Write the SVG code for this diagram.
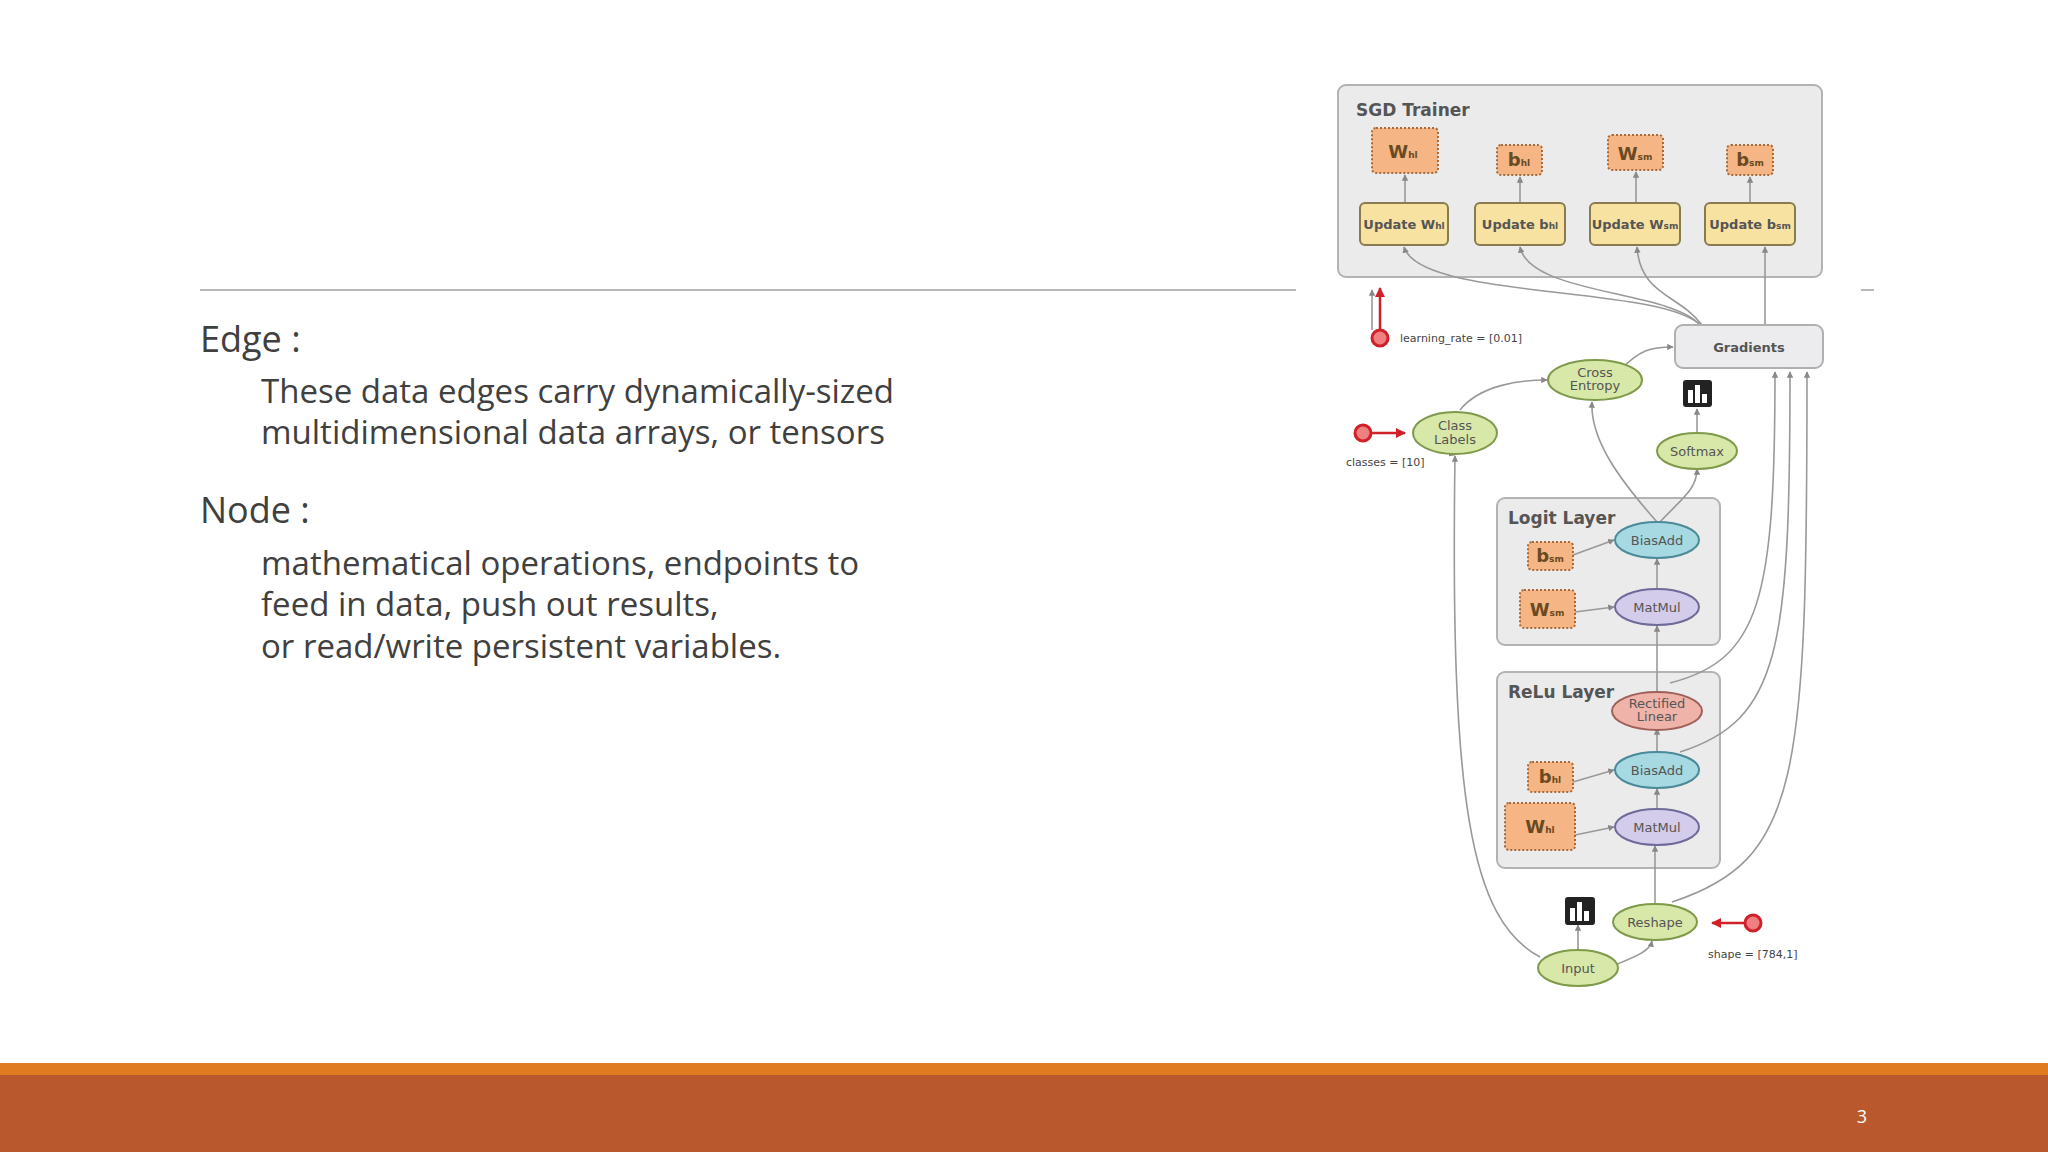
<svg xmlns="http://www.w3.org/2000/svg" width="2048" height="1152" viewBox="0 0 2048 1152">
<defs>
<marker id="a" viewBox="0 0 10 10" refX="9" refY="5" markerWidth="4" markerHeight="4" orient="auto"><path d="M0,0L10,5L0,10z" fill="#888"/></marker>
<marker id="r" viewBox="0 0 10 10" refX="9" refY="5" markerWidth="4" markerHeight="4" orient="auto"><path d="M0,0L10,5L0,10z" fill="#d0202a"/></marker>
<style>
.t{font-family:"Open Sans","Liberation Sans",sans-serif;fill:#404040}
.g{fill:#ebebeb;stroke:#b3b3b3;stroke-width:2}
.gt{font-family:"DejaVu Sans",sans-serif;font-weight:bold;font-size:17px;fill:#555}
.v{fill:#f5b585;stroke:#a86a3a;stroke-width:2;stroke-dasharray:2 2}
.u{fill:#f8e2a2;stroke:#8a7a50;stroke-width:2}
.gr{fill:#d8e8a8;stroke:#7f9a4a;stroke-width:2}
.bl{fill:#a6d9e2;stroke:#4a8a99;stroke-width:2}
.pu{fill:#d3cceb;stroke:#6e6a99;stroke-width:2}
.pk{fill:#efb3aa;stroke:#a06058;stroke-width:2}
.nt{font-family:"DejaVu Sans",sans-serif;font-size:13px;fill:#555;text-anchor:middle}
.vt{font-family:"DejaVu Sans",sans-serif;font-weight:bold;font-size:18px;fill:#6a4a20;text-anchor:middle}
.sm{font-size:9px}
.e{fill:none;stroke:#999;stroke-width:1.6;marker-end:url(#a)}
.re{fill:none;stroke:#d0202a;stroke-width:2.5;marker-end:url(#r)}
.c{fill:#f08080;stroke:#d0202a;stroke-width:3}
.lt{font-family:"DejaVu Sans",sans-serif;font-size:11px;fill:#444}
</style>
</defs>
<rect width="2048" height="1152" fill="#fff"/>
<line x1="200" y1="290" x2="1296" y2="290" stroke="#a0a0a0" stroke-width="1.5"/>
<line x1="1861" y1="290" x2="1874" y2="290" stroke="#a0a0a0" stroke-width="1.5"/>
<g id="text">
<text class="t" x="200" y="352" font-size="36">Edge :</text>
<text class="t" x="261" y="403" font-size="33">These data edges carry dynamically-sized</text>
<text class="t" x="261" y="444" font-size="33">multidimensional data arrays, or tensors</text>
<text class="t" x="200" y="523" font-size="36">Node :</text>
<text class="t" x="261" y="575" font-size="33">mathematical operations, endpoints to</text>
<text class="t" x="261" y="616" font-size="33">feed in data, push out results,</text>
<text class="t" x="261" y="658" font-size="33">or read/write persistent variables.</text>
</g>
<rect x="0" y="1063" width="2048" height="12" fill="#e07b1f"/>
<rect x="0" y="1075" width="2048" height="77" fill="#b9572d"/>
<text x="1862" y="1123" font-family="Open Sans,Liberation Sans,sans-serif" font-size="18" fill="#fff" text-anchor="middle">3</text>

<g id="sgd"><rect class="g" x="1338" y="85" width="484" height="192" rx="8"/><text class="gt" x="1356" y="116">SGD Trainer</text></g>
<g id="logit"><rect class="g" x="1497" y="498" width="223" height="147" rx="8"/><text class="gt" x="1508" y="524">Logit Layer</text></g>
<g id="relu"><rect class="g" x="1497" y="672" width="223" height="196" rx="8"/><text class="gt" x="1508" y="698">ReLu Layer</text></g>

<g id="connectors">
<path class="e" d="M1372,330 V290"/>
<path class="e" d="M1405,203 V175"/>
<path class="e" d="M1520,203 V177"/>
<path class="e" d="M1636,203 V172"/>
<path class="e" d="M1750,203 V177"/>
<path class="e" d="M1700,325 C1660,285 1420,300 1404,247"/>
<path class="e" d="M1700,325 C1670,290 1530,295 1520,247"/>
<path class="e" d="M1702,325 C1680,295 1640,295 1637,247"/>
<path class="e" d="M1765,325 V247"/>
<path class="e" d="M1620,370 C1640,350 1650,347 1673,347"/>
<path class="e" d="M1460,410 C1480,385 1520,380 1547,380"/>
<path class="e" d="M1455,455"/>
<path class="e" d="M1540,957 C1470,920 1450,800 1455,456"/>
<path class="e" d="M1657,522 C1620,480 1590,440 1592,402"/>
<path class="e" d="M1660,522 C1680,500 1697,490 1697,469"/>
<path class="e" d="M1697,432 V409"/>
<path class="e" d="M1578,950 V925"/>
<path class="e" d="M1615,965 C1640,955 1650,950 1652,941"/>
<path class="e" d="M1655,904 V846"/>
<path class="e" d="M1657,808 V789"/>
<path class="e" d="M1657,752 V729"/>
<path class="e" d="M1657,692 V626"/>
<path class="e" d="M1657,589 V559"/>
<path class="e" d="M1573,555 L1614,540"/>
<path class="e" d="M1575,612 L1614,607"/>
<path class="e" d="M1573,782 L1614,770"/>
<path class="e" d="M1575,835 L1614,827"/>
<path class="e" d="M1670,683 C1760,660 1775,600 1775,372"/>
<path class="e" d="M1680,752 C1780,720 1790,650 1790,372"/>
<path class="e" d="M1672,902 C1800,860 1807,780 1807,372"/>
<path class="re" d="M1380,330 V288"/>
<path class="re" d="M1372,433 H1405"/>
<path class="re" d="M1745,923 H1712"/>
</g>

<g id="lr"><circle class="c" cx="1380" cy="338" r="8"/><text class="lt" x="1400" y="342">learning_rate = [0.01]</text></g>
<g id="cls"><circle class="c" cx="1363" cy="433" r="8"/><text class="lt" x="1346" y="466">classes = [10]</text></g>
<g id="shp"><circle class="c" cx="1753" cy="923" r="8"/><text class="lt" x="1708" y="958">shape = [784,1]</text></g>

<g id="whl1"><rect class="v" x="1372" y="128" width="66" height="45" rx="4"/><text class="vt" x="1403" y="158">W<tspan class="sm">hl</tspan></text></g>
<g id="bhl1"><rect class="v" x="1497" y="145" width="45" height="30" rx="4"/><text class="vt" x="1519" y="166" font-size="15">b<tspan class="sm">hl</tspan></text></g>
<g id="wsm1"><rect class="v" x="1608" y="135" width="55" height="35" rx="4"/><text class="vt" x="1635" y="160">W<tspan class="sm">sm</tspan></text></g>
<g id="bsm1"><rect class="v" x="1727" y="145" width="46" height="30" rx="4"/><text class="vt" x="1750" y="166" font-size="15">b<tspan class="sm">sm</tspan></text></g>

<g id="u1"><rect class="u" x="1360" y="203" width="88" height="42" rx="5"/><text class="nt" x="1404" y="229" font-weight="bold" font-size="12">Update W<tspan class="sm">hl</tspan></text></g>
<g id="u2"><rect class="u" x="1475" y="203" width="90" height="42" rx="5"/><text class="nt" x="1520" y="229" font-weight="bold" font-size="12">Update b<tspan class="sm">hl</tspan></text></g>
<g id="u3"><rect class="u" x="1590" y="203" width="90" height="42" rx="5"/><text class="nt" x="1635" y="229" font-weight="bold" font-size="12">Update W<tspan class="sm">sm</tspan></text></g>
<g id="u4"><rect class="u" x="1705" y="203" width="90" height="42" rx="5"/><text class="nt" x="1750" y="229" font-weight="bold" font-size="12">Update b<tspan class="sm">sm</tspan></text></g>

<g id="grad"><rect x="1675" y="325" width="148" height="43" rx="8" fill="#ececef" stroke="#b0b0b0" stroke-width="2"/><text class="nt" x="1749" y="352" font-size="16" font-weight="bold">Gradients</text></g>
<g id="ce"><ellipse class="gr" cx="1595" cy="380" rx="47" ry="20"/><text class="nt" x="1595" y="377" font-size="12">Cross</text><text class="nt" x="1595" y="390" font-size="12">Entropy</text></g>
<g id="cl"><ellipse class="gr" cx="1455" cy="433" rx="42" ry="21"/><text class="nt" x="1455" y="430" font-size="12">Class</text><text class="nt" x="1455" y="444" font-size="12">Labels</text></g>
<g id="sm"><ellipse class="gr" cx="1697" cy="451" rx="40" ry="18"/><text class="nt" x="1697" y="456">Softmax</text></g>
<g id="ch1"><rect x="1683" y="380" width="29" height="27" rx="3" fill="#222"/><rect x="1688" y="390" width="5" height="13" fill="#fff"/><rect x="1695" y="385" width="5" height="18" fill="#fff"/><rect x="1702" y="394" width="5" height="9" fill="#fff"/></g>
<g id="ba2"><ellipse class="bl" cx="1657" cy="540" rx="42" ry="18"/><text class="nt" x="1657" y="545">BiasAdd</text></g>
<g id="bsm2"><rect class="v" x="1528" y="542" width="45" height="28" rx="4"/><text class="vt" x="1550" y="562" font-size="15">b<tspan class="sm">sm</tspan></text></g>
<g id="wsm2"><rect class="v" x="1520" y="590" width="55" height="38" rx="4"/><text class="vt" x="1547" y="616">W<tspan class="sm">sm</tspan></text></g>
<g id="mm2"><ellipse class="pu" cx="1657" cy="607" rx="42" ry="18"/><text class="nt" x="1657" y="612">MatMul</text></g>
<g id="rl"><ellipse class="pk" cx="1657" cy="711" rx="45" ry="19"/><text class="nt" x="1657" y="708" font-size="12">Rectified</text><text class="nt" x="1657" y="721" font-size="12">Linear</text></g>
<g id="ba1"><ellipse class="bl" cx="1657" cy="770" rx="42" ry="18"/><text class="nt" x="1657" y="775">BiasAdd</text></g>
<g id="bhl2"><rect class="v" x="1528" y="762" width="45" height="30" rx="4"/><text class="vt" x="1550" y="783" font-size="15">b<tspan class="sm">hl</tspan></text></g>
<g id="whl2"><rect class="v" x="1505" y="803" width="70" height="47" rx="4"/><text class="vt" x="1540" y="833">W<tspan class="sm">hl</tspan></text></g>
<g id="mm1"><ellipse class="pu" cx="1657" cy="827" rx="42" ry="18"/><text class="nt" x="1657" y="832">MatMul</text></g>
<g id="ch2"><rect x="1565" y="897" width="30" height="28" rx="3" fill="#222"/><rect x="1570" y="908" width="5" height="13" fill="#fff"/><rect x="1577" y="902" width="5" height="19" fill="#fff"/><rect x="1584" y="911" width="5" height="10" fill="#fff"/></g>
<g id="rs"><ellipse class="gr" cx="1655" cy="922" rx="42" ry="18"/><text class="nt" x="1655" y="927">Reshape</text></g>
<g id="in"><ellipse class="gr" cx="1578" cy="968" rx="40" ry="18"/><text class="nt" x="1578" y="973">Input</text></g>
</svg>
